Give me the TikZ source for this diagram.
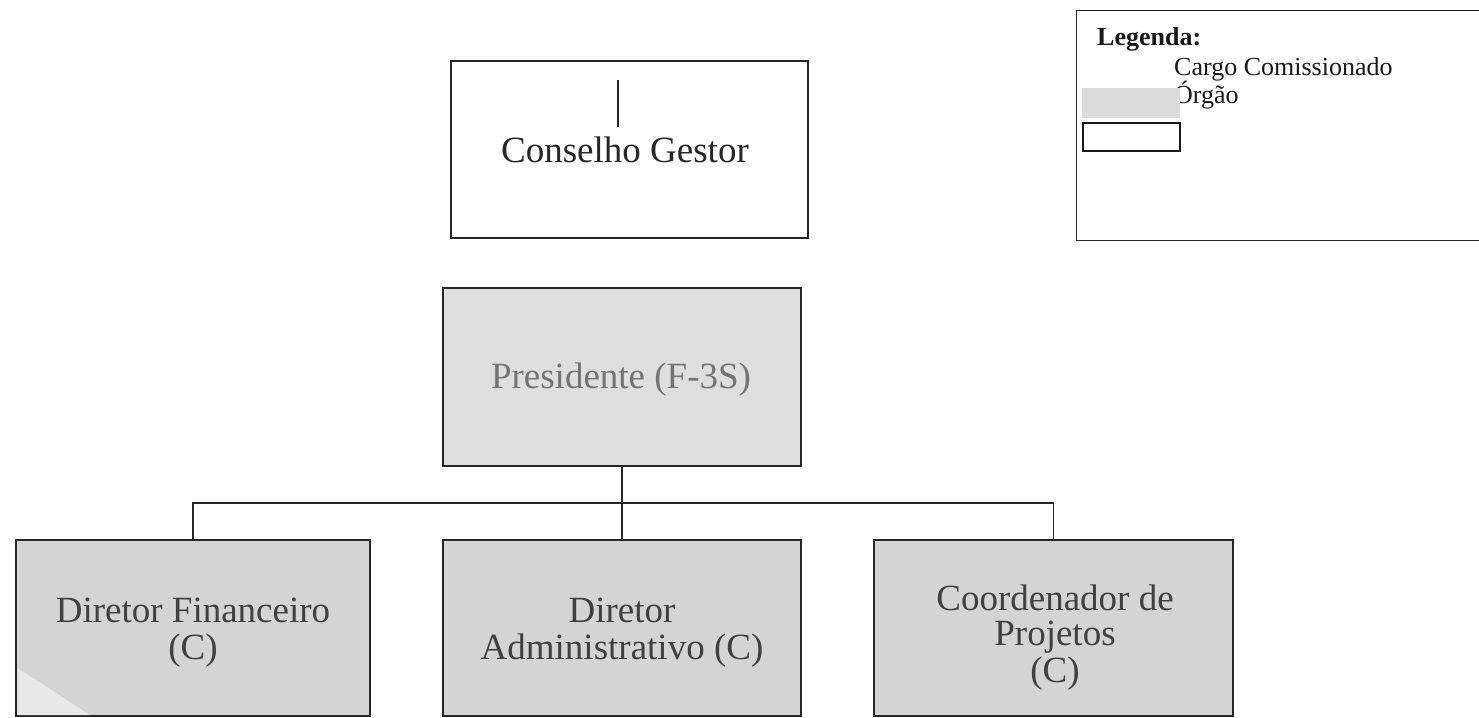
\documentclass[tikz,border=0pt]{standalone}
\usepackage{fontspec}
\setmainfont{Liberation Serif}
\begin{document}
\begin{tikzpicture}[x=1pt,y=-1pt,
  orgbox/.style={draw=black!85, line width=1.6pt, rectangle, inner sep=0pt},
  grayfill/.style={fill=black!17},
  lightfill/.style={fill=black!13},
  bigtext/.style={font=\fontsize{37pt}{37pt}\selectfont, inner sep=0pt, anchor=base},
  legtext/.style={font=\fontsize{26pt}{26pt}\selectfont, inner sep=0pt, anchor=base west, text=black!90},
  conn/.style={draw=black!85, line width=1.8pt}]
\useasboundingbox (0,0) rectangle (1479,717);
\clip (0,0) rectangle (1479,717);

% Conselho Gestor
\node[orgbox, minimum width=357pt, minimum height=177pt] (cg) at (629.5,149.5) {};
\draw[black!85, line width=1.4pt] (618,80) -- (618,127);
\node[bigtext, text=black!85] (cgt) at (625,162) {Conselho Gestor};

% Presidente
\node[orgbox, lightfill, minimum width=358pt, minimum height=178pt] (pres) at (622,377) {};
\node[bigtext, text=black!55] (prest) at (621,388) {Presidente (F-3S)};

% Bottom boxes
\node[orgbox, grayfill, minimum width=354pt, minimum height=176pt] (dfin) at (193,628) {};
\fill[black!9] (17.5,668) -- (90,715) -- (17.5,715) -- cycle;
\node[orgbox, grayfill, minimum width=358pt, minimum height=176pt] (dadm) at (622,628) {};
\node[orgbox, grayfill, minimum width=359pt, minimum height=176pt] (coord) at (1053.5,628) {};

\node[bigtext, text=black!75] (dfin1) at (193,622) {Diretor Financeiro};
\node[bigtext, text=black!75] (dfin2) at (193,659) {(C)};
\node[bigtext, text=black!75] (dadm1) at (622,622) {Diretor};
\node[bigtext, text=black!75] (dadm2) at (622,659) {Administrativo (C)};
\node[bigtext, text=black!75] (coord1) at (1055,610) {Coordenador de};
\node[bigtext, text=black!75] (coord2) at (1055,645) {Projetos};
\node[bigtext, text=black!75] (coord3) at (1055,682) {(C)};

% Connectors
\coordinate (j) at (622,503);
\draw[conn] (pres.south) -- (dadm.north);
\draw[conn] (dfin.north) |- (j) -| (coord.north);

% Legend
\node[draw=black!85, line width=1.2pt, rectangle, minimum width=420pt, minimum height=230pt, anchor=north west, inner sep=0pt] (leg) at (1076,10) {};
\node[legtext, font=\fontsize{26pt}{26pt}\selectfont\bfseries] (legt) at (1097,46) {Legenda:};
\node[legtext] (leg1) at (1174,75) {Cargo Comissionado};
\node[legtext] (leg2) at (1174,103) {Órgão};
\fill[black!14] (1082,88) rectangle (1180,118);
\node[draw=black!90, line width=2pt, rectangle, minimum width=97pt, minimum height=28pt, inner sep=0pt] (legw) at (1131,137) {};
\end{tikzpicture}
\end{document}
